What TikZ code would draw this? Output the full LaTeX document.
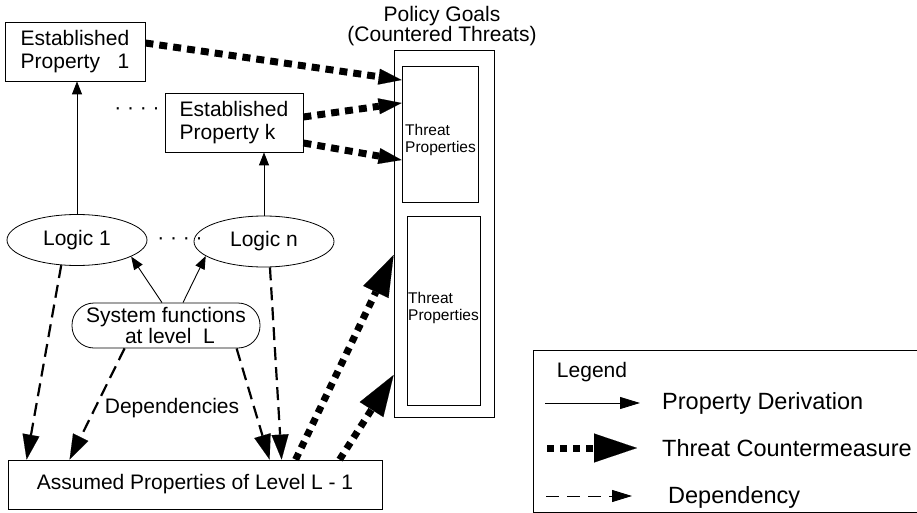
\documentclass[tikz,border=0pt]{standalone}
\usepackage{fontspec}
\setmainfont{Liberation Sans}
\usetikzlibrary{arrows.meta,shapes.geometric}

\begin{document}
\begin{tikzpicture}[x=1pt,y=-1pt,
  box/.style={draw, line width=0.8pt, inner sep=0pt},
  lbl/.style={font=\fontsize{21}{23}\selectfont},
  small/.style={font=\fontsize{15.5}{17.5}\selectfont, align=left, inner sep=0pt, anchor=west},
  deriv/.style={line width=0.9pt, -{Triangle[length=13pt,width=10pt]}},
  depend/.style={line width=2.2pt, dash pattern=on 13pt off 7pt,
    -{Triangle[length=25pt,width=17pt,line width=0.1pt]}},
  threat/.style={line width=7pt, dash pattern=on 8pt off 6pt,
    -{Triangle[length=23pt,width=16pt,line width=0.1pt]}},
  bigthreat/.style={line width=7pt, dash pattern=on 7pt off 6pt,
    -{Triangle[length=41pt,width=28pt,line width=0.1pt]}},
  dotrow/.style={font=\fontsize{21}{23}\selectfont, inner sep=0pt, anchor=base},
]
\useasboundingbox (0,0) rectangle (917,513);

% established properties
\node[box, lbl, align=left, minimum width=140pt, minimum height=59pt]
  (ep1) at (75,51.5) {Established\\Property\ \ \ 1};
\node[box, lbl, align=left, minimum width=138pt, minimum height=59pt]
  (epk) at (234,122.5) {Established\\Property k};
\node[dotrow] (dots1) at (137,114.5) {· · · ·};

% logics
\node[draw, line width=0.8pt, ellipse, inner sep=0pt, lbl,
  minimum width=140pt, minimum height=51pt] (l1) at (77,240) {Logic 1};
\node[draw, line width=0.8pt, ellipse, inner sep=0pt, lbl,
  minimum width=140pt, minimum height=51pt] (ln) at (264,241.5) {Logic n};
\node[dotrow] (dots2) at (180,244.5) {· · · ·};

% system functions
\node[box, rounded corners=22pt, align=center, font=\fontsize{21}{18}\selectfont,
  minimum width=188pt, minimum height=45pt]
  (sf) at (166,325.5) {System functions\\\hspace{8pt}at level\ \ L};

% assumed properties
\node[box, lbl, minimum width=374pt, minimum height=49pt]
  (asm) at (195,484.5) {Assumed Properties of Level L - 1};
\node[lbl, inner sep=0pt] (deplbl) at (172,408) {Dependencies};

% policy goals
\node[box, minimum width=100pt, minimum height=367pt] (goals) at (444,233.5) {};
\node[align=center, inner sep=0pt, font=\fontsize{21}{18}\selectfont]
  (title) at (442,26) {Policy Goals\\(Countered Threats)};
\node[box, minimum width=76pt, minimum height=136pt] (t1) at (440,134) {};
\node[small] (t1txt) at (405,140) {Threat\\Properties};
\node[box, minimum width=73pt, minimum height=189pt] (t2) at (443.5,310.5) {};
\node[small] (t2txt) at (408,308) {Threat\\Properties};

% property derivations
\draw[deriv] (ln.north) -- (ln.north |- epk.south);
\draw[deriv] (l1.north) -- (l1.north |- ep1.south);
\draw[deriv] ([xshift=-4pt]sf.north) -- (l1.-17.5);
\draw[deriv] ([xshift=17pt]sf.north) -- (ln.-166);

% dependencies
\draw[depend] (l1.-122) -- ([xshift=19pt]asm.north west);
\draw[depend] ([xshift=53pt]sf.south west) -- ([xshift=62pt]asm.north west);
\draw[depend] ([xshift=165pt]sf.south west) -- ([xshift=262pt]asm.north west);
\draw[depend] (ln.-77) -- ([xshift=274pt]asm.north west);

% threat countermeasures
\draw[threat] ([yshift=8.5pt]ep1.east) -- ([yshift=54pt]t1.west);
\draw[threat] ([yshift=5.5pt]epk.east) -- ([yshift=31pt]t1.west);
\draw[threat] ([yshift=-20.5pt]epk.east) -- ([yshift=-26pt]t1.west);
\draw[bigthreat] ([xshift=288pt]asm.north west) -- ([yshift=-21.5pt]goals.west);
\draw[bigthreat] ([xshift=332pt]asm.north west) -- ([yshift=-141.5pt]goals.west);

% legend
\draw[line width=0.8pt] (925,350) -- (533,350) -- (533,512) -- (925,512);
\node[lbl, inner sep=0pt] (legtitle) at (592,372) {Legend};
\coordinate (la1) at (545,403); \coordinate (lb1) at (640,403);
\coordinate (la2) at (547,448); \coordinate (lb2) at (637,448);
\coordinate (la3) at (546,496); \coordinate (lb3) at (632,496);
\draw[line width=0.9pt, -{Triangle[length=20pt,width=12pt]}] (la1) -- (lb1);
\draw[line width=7pt, dash pattern=on 7pt off 6pt,
  -{Triangle[length=43pt,width=29pt,line width=0.1pt]}] (la2) -- (lb2);
\draw[line width=1pt, dash pattern=on 13pt off 8pt,
  -{Triangle[length=20pt,width=12pt]}] (la3) -- (lb3);
\node[anchor=west, inner sep=0pt, font=\fontsize{23.5}{26}\selectfont]
  (legd) at (662,403) {Property Derivation};
\node[anchor=west, inner sep=0pt, font=\fontsize{23.5}{26}\selectfont]
  (legt) at (662,448) {Threat Countermeasure};
\node[anchor=west, inner sep=0pt, font=\fontsize{23.5}{26}\selectfont]
  (legdep) at (668,497) {Dependency};
\end{tikzpicture}
\end{document}
